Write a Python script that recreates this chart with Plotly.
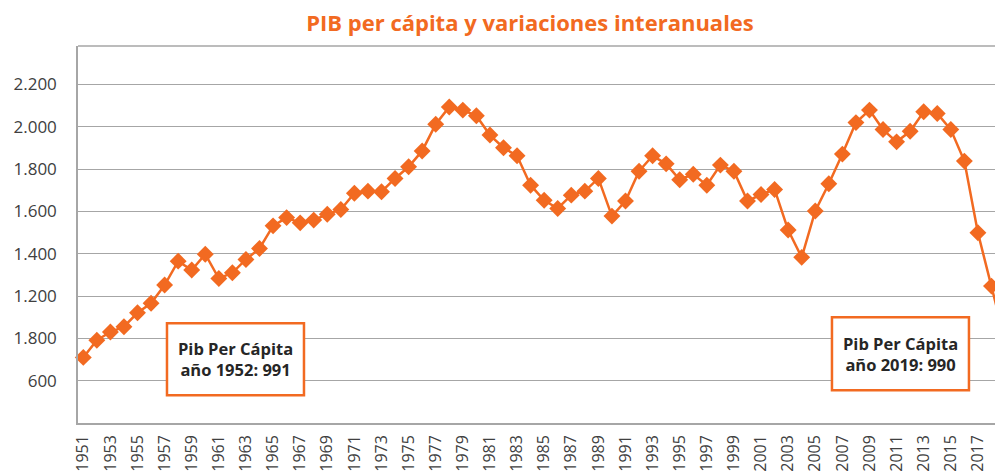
import plotly.graph_objects as go

years = list(range(1951, 2020))
pib = [910, 991, 1030, 1055, 1121, 1166, 1252, 1365, 1323, 1398,
       1283, 1310, 1373, 1425, 1532, 1571, 1546, 1559, 1587, 1609,
       1686, 1696, 1693, 1756, 1811, 1886, 2012, 2094, 2079, 2052,
       1961, 1901, 1863, 1724, 1653, 1614, 1677, 1696, 1756, 1578,
       1649, 1790, 1863, 1825, 1750, 1776, 1724, 1819, 1790, 1649,
       1680, 1704, 1512, 1383, 1602, 1731, 1871, 2020, 2079, 1987,
       1929, 1979, 2071, 2063, 1987, 1838, 1499, 1247, 990]

xtick_vals = list(range(1951, 2018, 2))
xtick_text = [str(y) for y in xtick_vals]
ytick_vals = [800, 1000, 1200, 1400, 1600, 1800, 2000, 2200]
ytick_text = ["600", "1.800", "1.200", "1.400", "1.600", "1.800", "2.000", "2.200"]

title = "PIB per cápita y variaciones interanuales"
box_texts = ["Pib Per Cápita<br>año 1952: 991", "Pib Per Cápita<br>año 2019: 990"]

ORANGE = "#F26A21"
GRID = "#A6A6A6"

fig = go.Figure()
fig.add_trace(go.Scatter(
    x=years, y=pib, mode="lines+markers",
    line=dict(color=ORANGE, width=2.5),
    marker=dict(symbol="diamond", size=13, color=ORANGE),
    cliponaxis=False, showlegend=False, hoverinfo="x+y",
))

# page body has an 8px margin; figure sized so it ends at the window edge
fig.update_layout(
    width=995, height=467,
    margin=dict(l=70, r=0, t=38, b=52, autoexpand=False),
    paper_bgcolor="white", plot_bgcolor="white",
    font=dict(family="Open Sans", color="#404040"),
    title=dict(text=f"<b>{title}</b>", x=0.5246, xref="container", xanchor="center",
               y=1 - 15 / 467, yanchor="middle",
               font=dict(family="Open Sans", size=22, color=ORANGE)),
    xaxis=dict(range=[1950.61, 2018.85], tickvals=xtick_vals, ticktext=xtick_text,
               tickangle=-90, showgrid=False, showline=True, linecolor=GRID, linewidth=1.5,
               ticks="", ticklen=0, ticklabelstandoff=4, tickfont=dict(size=16, color="#404040"),
               zeroline=False, automargin=False),
    yaxis=dict(range=[600, 2382], tickvals=ytick_vals, ticktext=ytick_text,
               showgrid=True, gridcolor=GRID, gridwidth=1, showline=True,
               linecolor=GRID, linewidth=1.5, ticks="", ticklabelstandoff=16,
               tickfont=dict(size=17, color="#404040"), zeroline=False, automargin=False),
)

# top border of plot area
fig.add_shape(type="line", xref="paper", yref="paper", x0=0, x1=1, y0=1, y1=1,
              line=dict(color=GRID, width=1.5))

boxes = [
    dict(x0=0.0962, x1=0.2443, y0=0.0735, y1=0.2645),
    dict(x0=0.8151, x1=0.9632, y0=0.0867, y1=0.2804),
]
for b, txt in zip(boxes, box_texts):
    fig.add_shape(type="rect", xref="paper", yref="paper", x0=b["x0"], x1=b["x1"],
                  y0=b["y0"], y1=b["y1"], line=dict(color=ORANGE, width=2.5),
                  fillcolor="white", layer="above")
    fig.add_annotation(xref="paper", yref="paper", x=(b["x0"] + b["x1"]) / 2,
                       y=(b["y0"] + b["y1"]) / 2, text=f"<b>{txt}</b>", showarrow=False,
                       font=dict(family="Open Sans", size=16.5, color="#262626"),
                       xanchor="center", yanchor="middle", align="center")

fig.write_html("out.html")
